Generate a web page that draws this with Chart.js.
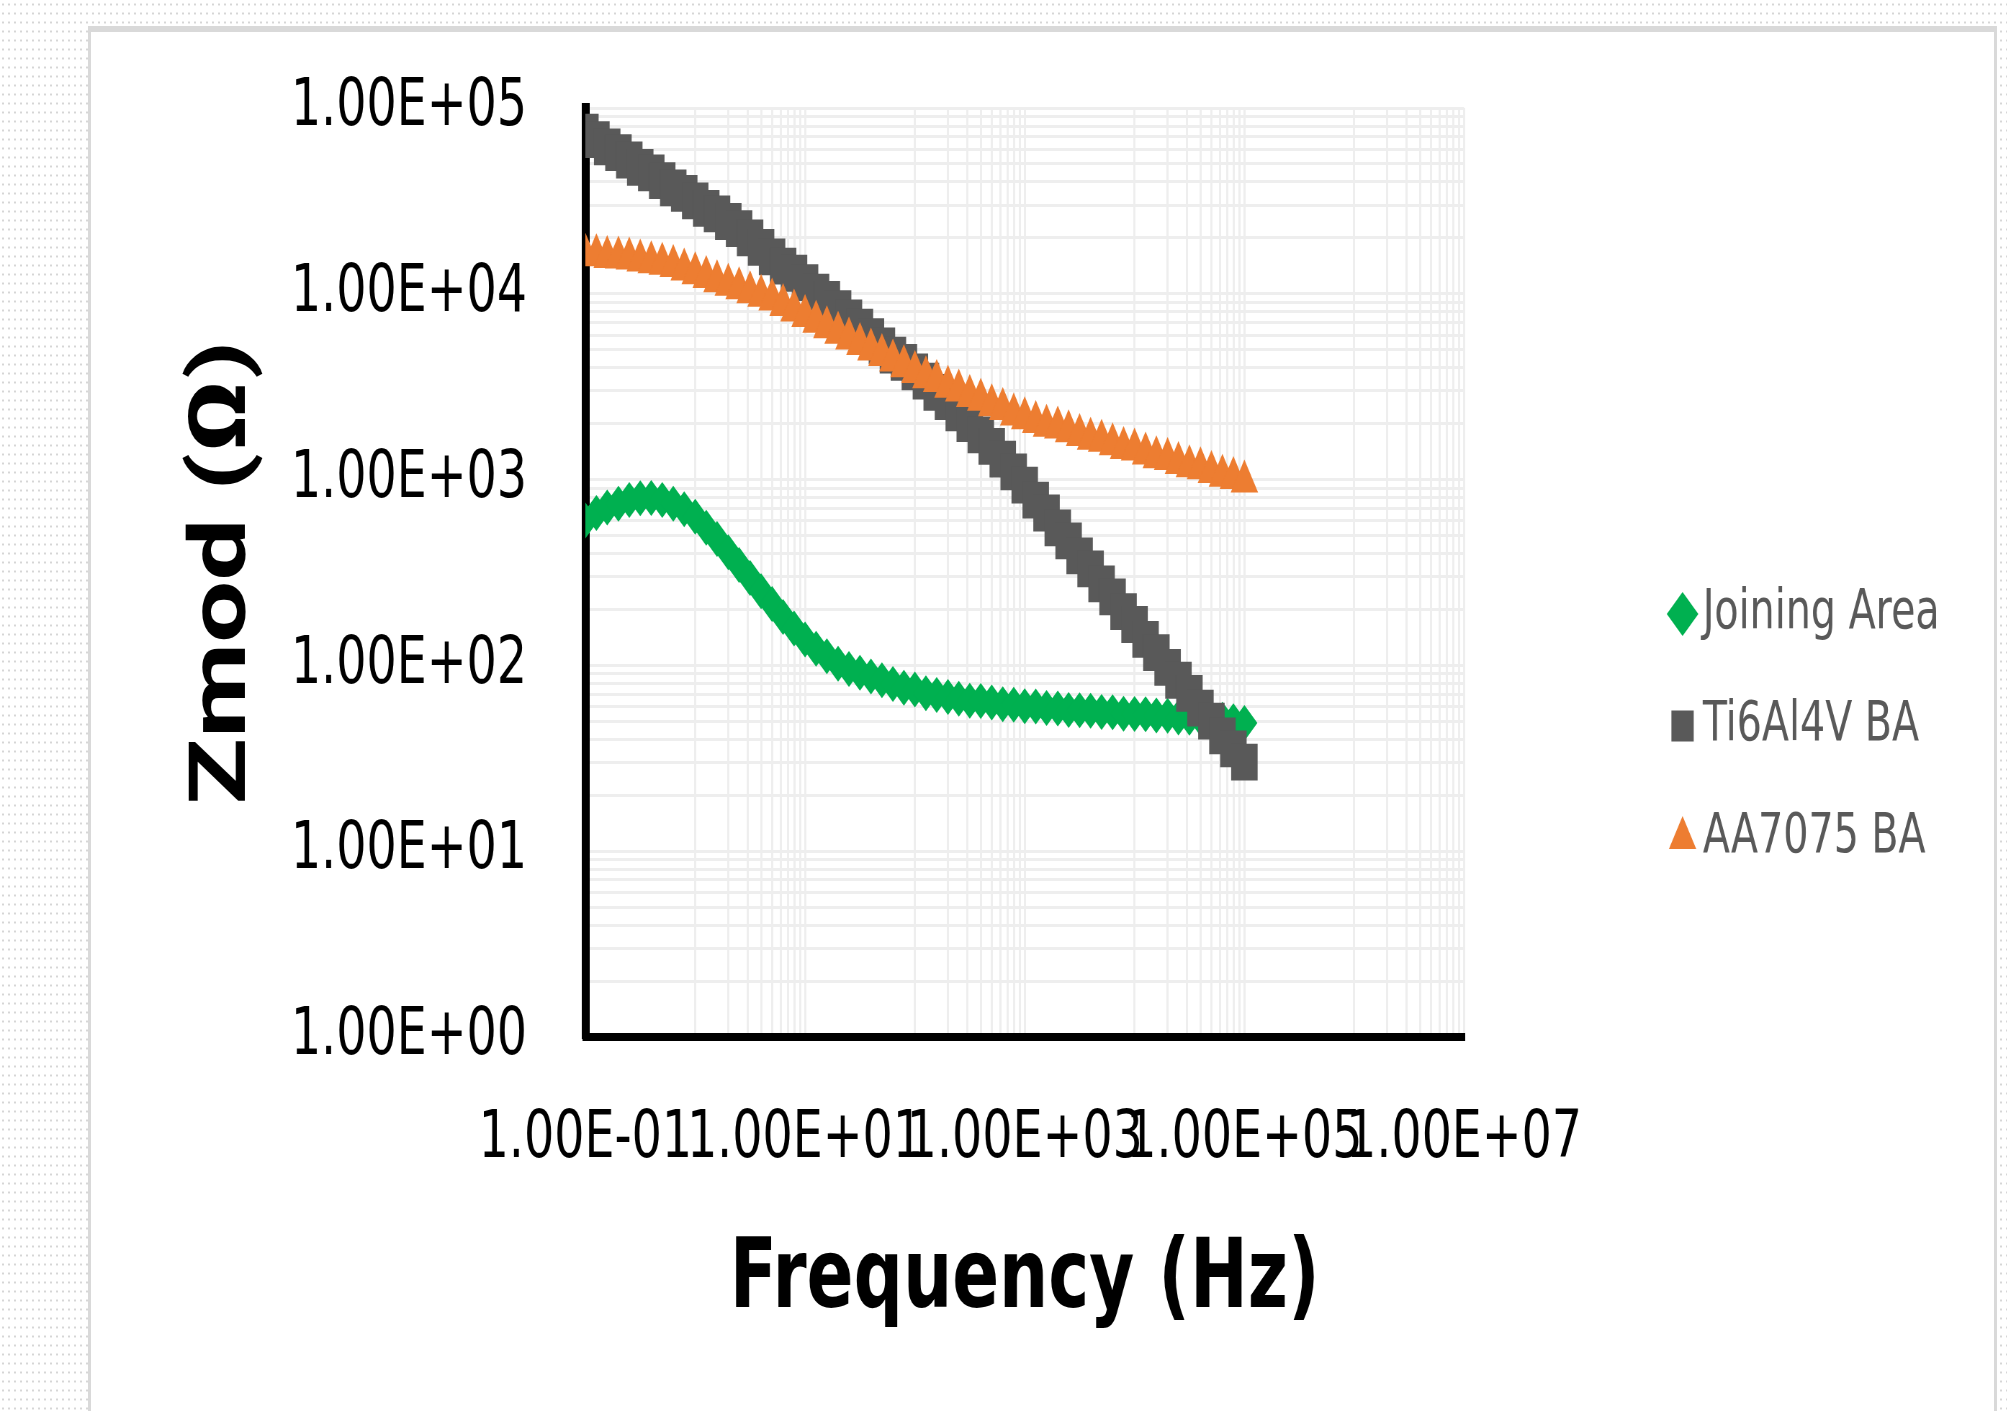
<!DOCTYPE html>
<html lang="en">
<head>
<meta charset="UTF-8" />
<title>Zmod vs Frequency</title>
<script src="https://cdn.jsdelivr.net/npm/chart.js"></script>
<style>
  html, body { margin: 0; padding: 0; }
  body {
    width: 2007px; height: 1411px; overflow: hidden; position: relative;
    background-color: #fff;
    background-image: radial-gradient(circle, #d6d6d6 0.9px, transparent 1.3px);
    background-size: 6px 9px;
  }
  #frame {
    position: absolute; left: 88px; top: 26px; width: 1903px; height: 1420px;
    background: #fff; border: 3px solid #d9d9d9; border-top-width: 6px;
  }
  /* the original picture is squeezed sideways, so the canvas is too */
  #chart {
    position: absolute; left: 0; top: 0;
    width: 2788px; height: 1411px;
    transform: scaleX(0.72); transform-origin: 0 0;
  }
</style>
</head>
<body>
<div id="frame"></div>
<canvas id="chart" width="2788" height="1411"></canvas>

<script>
  // frequency (Hz), 10 points per decade
  const frequency = [
    0.1, 0.126, 0.158, 0.2, 0.251, 0.316, 0.398, 0.501, 0.631, 0.794,
    1, 1.26, 1.58, 2, 2.51, 3.16, 3.98, 5.01, 6.31, 7.94,
    10, 12.6, 15.8, 20, 25.1, 31.6, 39.8, 50.1, 63.1, 79.4,
    100, 126, 158, 200, 251, 316, 398, 501, 631, 794,
    1000, 1260, 1580, 2000, 2510, 3160, 3980, 5010, 6310, 7940,
    10000, 12600, 15800, 20000, 25100, 31600, 39800, 50100, 63100, 79400,
    100000
  ];

  // Zmod (ohm)
  const joiningArea = [
    603, 661, 708, 741, 776, 794, 795, 776, 741, 692,
    631, 550, 479, 407, 347, 295, 251, 214, 182, 158,
    138, 123, 112, 102, 95.5, 91.2, 87.1, 83.2, 79.4, 75.9,
    74.1, 70.8, 69.2, 67.6, 66.1, 64.6, 64.3, 63.1, 61.7, 61.4,
    60.3, 60.0, 58.9, 58.6, 57.5, 57.3, 57.0, 56.2, 55.9, 55.0,
    54.8, 54.6, 53.7, 53.5, 52.5, 52.3, 52.1, 51.3, 51.0, 50.1,
    49.0
  ];
  const ti6al4v = [
    74100, 67600, 61700, 57500, 52500, 47900, 44700, 40700, 37200, 34700,
    31600, 28800, 26900, 24500, 22400, 20000, 17800, 15800, 14100, 12900,
    11500, 10200, 9330, 8320, 7410, 6610, 5890, 5250, 4680, 4270,
    3800, 3390, 2950, 2630, 2290, 2000, 1740, 1510, 1290, 1100,
    933, 776, 661, 550, 468, 389, 331, 275, 234, 195,
    166, 138, 117, 97.7, 83.2, 70.8, 58.9, 50.1, 41.7, 35.5,
    30.2
  ];
  const aa7075 = [
    16200, 16100, 15800, 15700, 15500, 15100, 14800, 14500, 14100, 13500,
    12900, 12300, 11700, 11200, 10700, 10200, 9770, 9330, 8710, 8130,
    7590, 7080, 6610, 6170, 5750, 5370, 5010, 4680, 4370, 4070,
    3800, 3550, 3390, 3160, 3020, 2820, 2690, 2510, 2400, 2240,
    2140, 2040, 1950, 1910, 1820, 1740, 1660, 1620, 1550, 1480,
    1450, 1380, 1320, 1290, 1230, 1180, 1150, 1100, 1050, 1020,
    977
  ];

  const seriesNames = ['Joining Area', 'Ti6Al4V BA', 'AA7075 BA'];
  const seriesValues = [joiningArea, ti6al4v, aa7075];
  const seriesColors = ['#00B050', '#595959', '#ED7D31'];
  const seriesMarkers = ['rectRot', 'rect', 'triangle'];
  const markerRadius = [18, 26, 22];
  const drawOrder = [2, 1, 0]; // orange on top, green at the bottom

  const xTickValues = [0.1, 10, 1000, 100000, 10000000];
  const xTickLabels = ['1.00E-01', '1.00E+01', '1.00E+03', '1.00E+05', '1.00E+07'];
  const yTickValues = [1, 10, 100, 1000, 10000, 100000];
  const yTickLabels = ['1.00E+00', '1.00E+01', '1.00E+02', '1.00E+03', '1.00E+04', '1.00E+05'];

  // gridline positions: majors plus the minor subdivisions
  const xGrid = [];
  xTickValues.forEach((v, i) => {
    xGrid.push(v);
    if (i < xTickValues.length - 1) for (let j = 1; j <= 9; j++) xGrid.push(v * 10 * j);
  });
  const yGrid = [];
  yTickValues.forEach((v, i) => {
    yGrid.push(v);
    if (i < yTickValues.length - 1) for (let j = 2; j <= 9; j++) yGrid.push(v * j);
  });

  const tickFont = { family: "'DejaVu Sans', sans-serif", size: 66 };

  const datasets = seriesNames.map((name, s) => ({
    label: name,
    data: frequency.map((f, i) => ({ x: f, y: seriesValues[s][i] })),
    pointStyle: seriesMarkers[s],
    pointRadius: markerRadius[s],
    backgroundColor: seriesColors[s],
    borderColor: seriesColors[s],
    borderWidth: 0,
    order: drawOrder[s]
  }));

  new Chart(document.getElementById('chart'), {
    type: 'scatter',
    data: { datasets },
    options: {
      responsive: false,
      animation: false,
      devicePixelRatio: 1,
      layout: { padding: { left: 0, top: 108, right: 84, bottom: 67 } },
      plugins: {
        legend: {
          position: 'right',
          align: 'center',
          labels: {
            usePointStyle: true,
            boxWidth: 1,
            boxHeight: 31,
            padding: 57,
            color: '#595959',
            font: { family: "'DejaVu Sans', sans-serif", size: 55 },
            sort: (a, b) => a.datasetIndex - b.datasetIndex
          }
        },
        tooltip: { enabled: false }
      },
      scales: {
        x: {
          type: 'logarithmic',
          position: 'bottom',
          min: 0.1,
          max: 10000000,
          afterBuildTicks: s => { s.ticks = xGrid.map(v => ({ value: v })); },
          afterFit: s => { s.height = 307; },
          ticks: {
            autoSkip: false, maxRotation: 0, minRotation: 0, padding: 63,
            color: '#000', font: tickFont,
            callback: v => { const i = xTickValues.indexOf(v); return i < 0 ? '' : xTickLabels[i]; }
          },
          grid: { color: '#eeeeee', lineWidth: 3, drawTicks: false },
          border: { color: '#000', width: 8 },
          title: {
            display: true, text: 'Frequency (Hz)', color: '#000',
            font: { family: "'DejaVu Sans', sans-serif", size: 96, weight: 'bold' },
            padding: { top: 0, bottom: 4 }
          }
        },
        y: {
          type: 'logarithmic',
          position: 'left',
          min: 1,
          max: 100000,
          afterBuildTicks: s => { s.ticks = yGrid.map(v => ({ value: v })); },
          afterFit: s => { s.width = 813; s.paddingTop = 0; s.paddingBottom = 0; },
          ticks: {
            autoSkip: false, padding: 81,
            color: '#000', font: tickFont,
            callback: v => { const i = yTickValues.indexOf(v); return i < 0 ? '' : yTickLabels[i]; }
          },
          grid: { color: '#eeeeee', lineWidth: 3, drawTicks: false },
          border: { color: '#000', width: 11 },
          title: {
            display: true, text: 'Zmod (Ω)', color: '#000',
            font: { family: "Roboto, sans-serif", size: 110, weight: 'bold' },
            padding: { top: 246, bottom: 0 }
          }
        },
        // empty spacer between the plot and the legend
        y2: {
          type: 'linear',
          position: 'right',
          grid: { display: false },
          border: { display: false },
          ticks: { display: false },
          afterFit: s => { s.width = 246; }
        }
      }
    }
  });
</script>
</body>
</html>
